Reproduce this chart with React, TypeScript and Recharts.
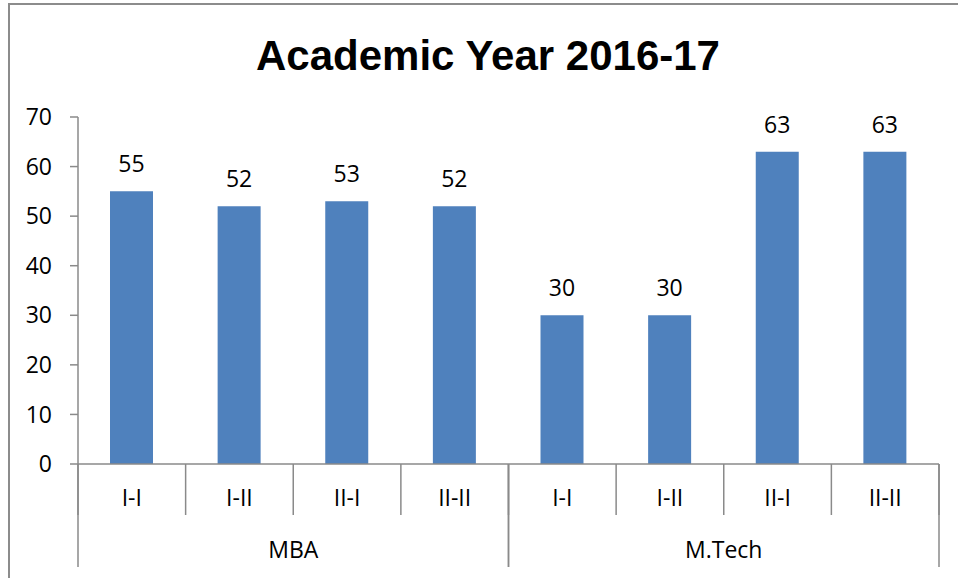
import React from 'react';
import { BarChart, Bar, XAxis, YAxis, LabelList } from 'recharts';

const categories = ['I-I', 'I-II', 'II-I', 'II-II', 'I-I', 'I-II', 'II-I', 'II-II'];
const groups = ['MBA', 'MBA', 'MBA', 'MBA', 'M.Tech', 'M.Tech', 'M.Tech', 'M.Tech'];
const values = [55, 52, 53, 52, 30, 30, 63, 63];
const yTicks = [0, 10, 20, 30, 40, 50, 60, 70];
const title = 'Academic Year 2016-17';

const data = categories.map((c, i) => ({ sem: c, group: groups[i], value: values[i] }));

const FONT = '"Open Sans", sans-serif';
const AXIS = '#8a8a8a';
const FS = 23;

const CatTick = (props: any) => {
  const { x, y, payload, index, visibleTicksCount } = props;
  const half = payload.offset ?? 0;
  return (
    <g>
      <line x1={x - half} x2={x - half} y1={y} y2={y + 51} stroke={AXIS} strokeWidth={1.5} />
      {index === visibleTicksCount - 1 && (
        <line x1={x + half} x2={x + half} y1={y} y2={y + 51} stroke={AXIS} strokeWidth={1.5} />
      )}
      <text x={x} y={y + 42} textAnchor="middle" fontFamily={FONT} fontSize={FS} fill="#000">
        {payload.value}
      </text>
    </g>
  );
};

const GroupTick = (props: any) => {
  const { x, y, payload } = props;
  const half = payload.offset ?? 0;
  return (
    <g>
      <line x1={x - half} x2={x - half} y1={y - 51} y2={y + 52} stroke={AXIS} strokeWidth={1.5} />
      <line x1={x + half} x2={x + half} y1={y - 51} y2={y + 52} stroke={AXIS} strokeWidth={1.5} />
      <text x={x} y={y + 43} textAnchor="middle" fontFamily={FONT} fontSize={FS} fill="#000">
        {payload.value}
      </text>
    </g>
  );
};

export default function App() {
  return (
    <div style={{ position: 'absolute', left: 0, top: 0, width: 958, height: 578, background: '#fff' }}>
      <div
        style={{
          position: 'absolute',
          left: 8,
          top: 3,
          width: 950,
          height: 575,
          borderTop: '2px solid #8c8c8c',
          borderLeft: '2px solid #8c8c8c',
          boxSizing: 'border-box',
        }}
      />
      <svg style={{ position: 'absolute', left: 0, top: 0 }} width={958} height={100}>
        <text
          x={488}
          y={70}
          textAnchor="middle"
          fontFamily='"Liberation Sans", Arial, sans-serif'
          fontWeight="bold"
          fontSize={42}
          fill="#000"
        >
          {title}
        </text>
      </svg>
      <div style={{ position: 'absolute', left: 0, top: 0 }}>
        <BarChart
          width={958}
          height={578}
          data={data}
          margin={{ top: 117, right: 19, left: 0, bottom: 11 }}
        >
          <XAxis
            dataKey="sem"
            height={51}
            tickSize={0}
            tickMargin={0}
            tickLine={false}
            axisLine={{ stroke: AXIS, strokeWidth: 1.5 }}
            tick={<CatTick />}
            interval={0}
          />
          <XAxis
            xAxisId="group"
            dataKey="group"
            allowDuplicatedCategory={false}
            height={52}
            tickSize={0}
            tickMargin={0}
            tickLine={false}
            axisLine={false}
            tick={<GroupTick />}
            interval={0}
          />
          <YAxis
            width={78}
            domain={[0, 70]}
            ticks={yTicks}
            interval={0}
            tickSize={8}
            tickMargin={18}
            axisLine={{ stroke: AXIS, strokeWidth: 1.5 }}
            tickLine={{ stroke: AXIS, strokeWidth: 1.5 }}
            tick={{ fontFamily: FONT, fontSize: FS, fill: '#000' }}
          />
          <Bar dataKey="value" fill="#4f81bd" barSize={43} isAnimationActive={false}>
            <LabelList
              dataKey="value"
              position="top"
              offset={19}
              fill="#000"
              fontFamily={FONT}
              fontSize={FS}
            />
          </Bar>
        </BarChart>
      </div>
    </div>
  );
}
